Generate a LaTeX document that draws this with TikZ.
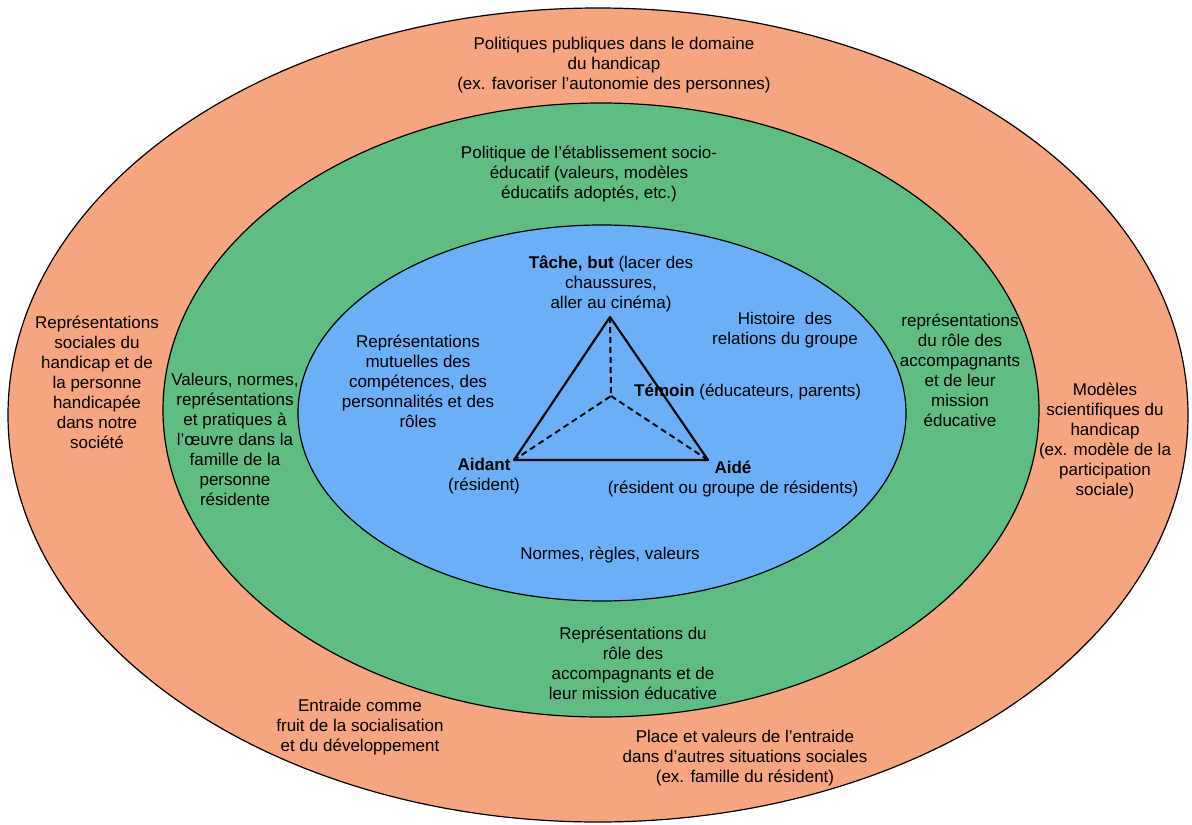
\documentclass[tikz,border=0pt]{standalone}
\usepackage{fontspec}
\setmainfont{Liberation Sans}
\usepackage{tikz}

\definecolor{saumon}{RGB}{245,165,128}
\definecolor{vert}{RGB}{95,189,132}
\definecolor{bleu}{RGB}{107,176,247}

\tikzset{
  txt/.style={align=center,inner sep=0pt,font=\fontsize{17}{20}\selectfont},
  anneau/.style={draw=black,line width=1.2pt},
  arete/.style={line width=2.2pt,line join=round},
  cachee/.style={line width=2pt,dash pattern=on 6pt off 4pt}
}

\begin{document}
\begin{tikzpicture}[x=1pt,y=-1pt]

      \useasboundingbox (0,0) rectangle (1192,825);

      % anneaux
      \fill[saumon,anneau] (598,415) ellipse [x radius=590,y radius=407];
      \fill[vert,anneau] (601,410) ellipse [x radius=438,y radius=307];
      \fill[bleu,anneau] (602,413) ellipse [x radius=304,y radius=188];

      % triangle
      \path (610,317) coordinate (tache);
      \path (514,460) coordinate (aidant);
      \path (708,460) coordinate (aide);
      \path (611,396) coordinate (temoin);
      \draw[arete] (tache) to (aide) to (aidant) to cycle;
      \draw[cachee] (tache) to (temoin) to (aidant) (temoin) to (aide);

      % ecologie
      \node (politiques) at (614,65) [txt] {Politiques publiques dans le domaine\\du handicap\\(ex. favoriser l’autonomie des personnes)};
      \node (sociales) at (97,382) [txt] {Représentations\\sociales du\\handicap et de\\la personne\\handicapée\\dans notre\\société};
      \node (modeles) at (1105,441) [txt] {Modèles\\scientifiques du\\handicap\\(ex. modèle de la\\participation\\sociale)};
      \node (entraide) at (360,727) [txt] {Entraide comme\\fruit de la socialisation\\et du développement};
      \node (place) at (745,758) [txt] {Place et valeurs de l’entraide\\dans d’autres situations sociales\\(ex. famille du résident)};

      % etablissement
      \node (etab) at (589,174) [txt] {Politique de l’établissement socio-\\éducatif (valeurs, modèles\\éducatifs adoptés, etc.)};
      \node (famille) at (235,439) [txt] {Valeurs, normes,\\représentations\\et pratiques à\\l’œuvre dans la\\famille de la\\personne\\résidente};
      \node (roledroite) at (960,370) [txt] {représentations\\du rôle des\\accompagnants\\et de leur\\mission\\éducative};
      \node (rolebas) at (633,663) [txt] {Représentations du\\rôle des\\accompagnants et de\\leur mission éducative};

      % groupe
      \node (ltache) at (611,284) [txt] {\textbf{Tâche, but} (lacer des\\chaussures,\\aller au cinéma)};
      \node (histoire) at (785,330) [txt] {Histoire\ \ des\\relations du groupe};
      \node (mutuelles) at (418,381) [txt] {Représentations\\mutuelles des\\compétences, des\\personnalités et des\\rôles};
      \node (ltemoin) at (634,392) [txt,anchor=west] {\textbf{Témoin} (éducateurs, parents)};
      \node (laidant) at (484,476) [txt] {\textbf{Aidant}\\(résident)};
      \node (laide) at (733,479) [txt] {\textbf{Aidé}\\(résident ou groupe de résidents)};
      \node (normes) at (610,555) [txt] {Normes, règles, valeurs};

    \end{tikzpicture}
\end{document}
